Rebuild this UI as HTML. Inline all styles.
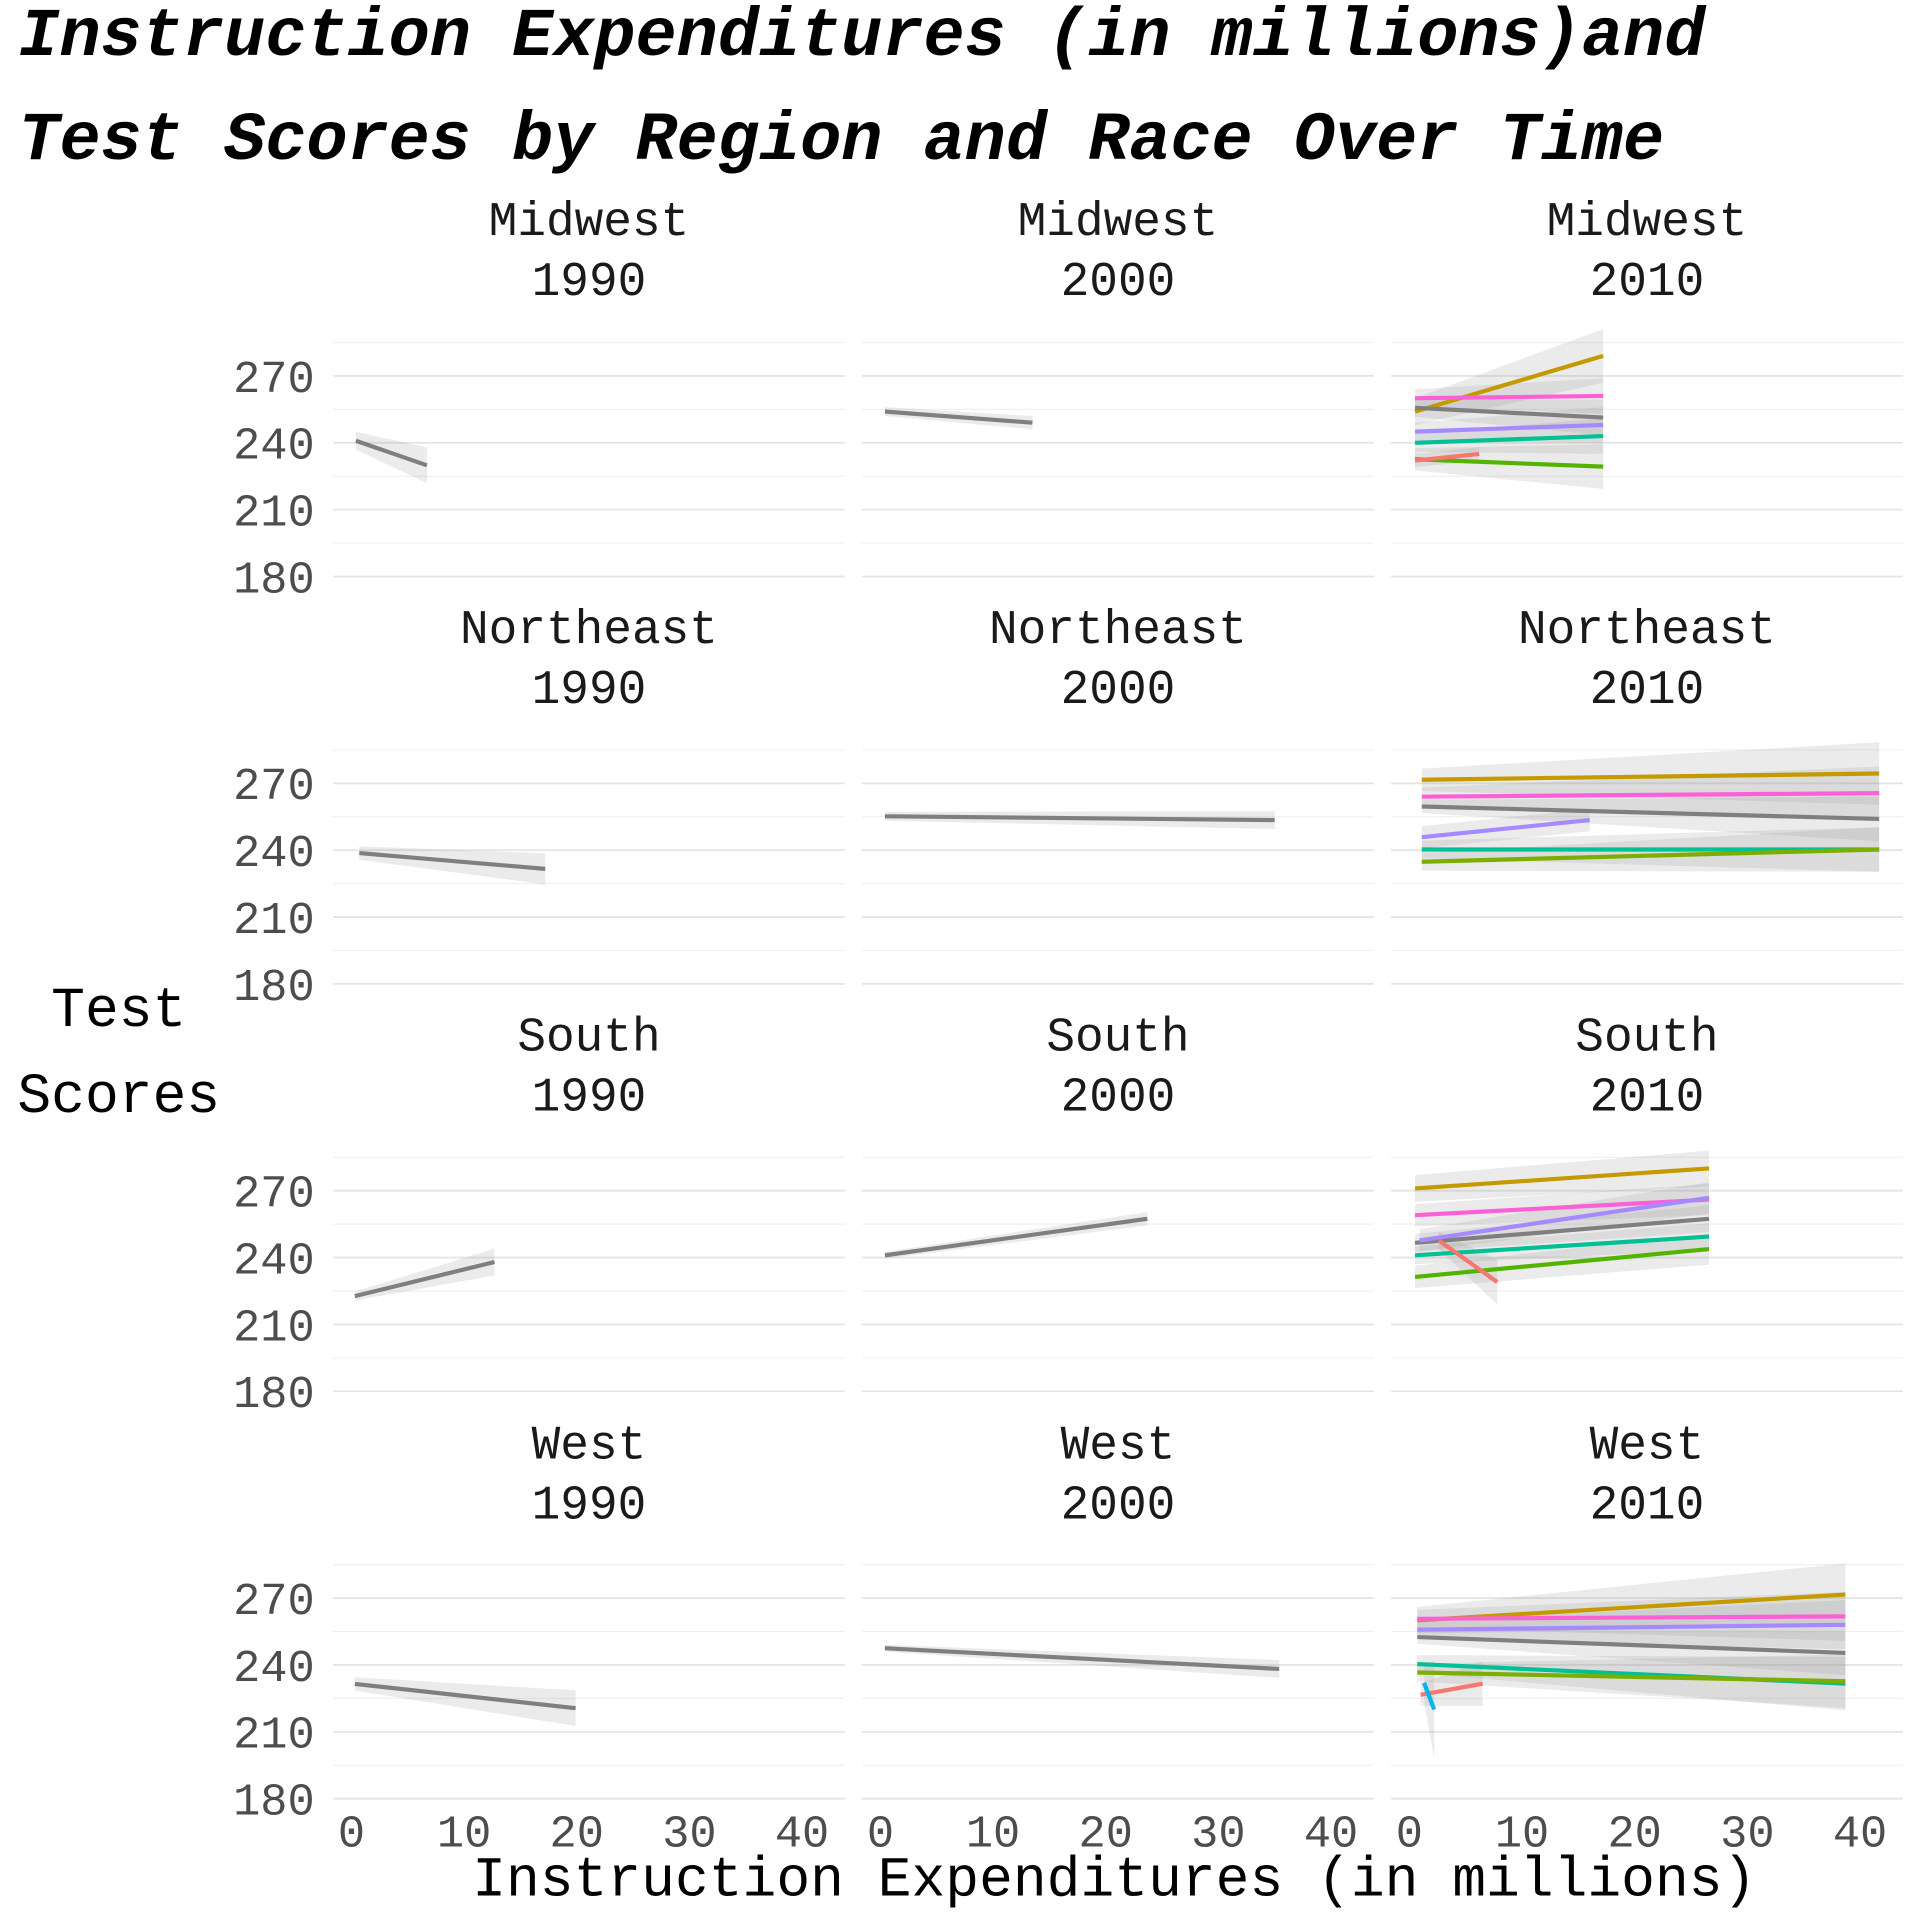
<!DOCTYPE html>
<html><head><meta charset="utf-8"><style>
html,body{margin:0;padding:0;background:#fff;}
svg{display:block;}
text{font-family:"Liberation Mono","DejaVu Sans Mono",monospace;}
</style></head><body>
<svg id="chart" width="1920" height="1920" viewBox="0 0 1568 1568" xmlns="http://www.w3.org/2000/svg">
<rect width="1568" height="1568" fill="#fff"/>
<text x="15" y="45" font-size="56" font-weight="bold" font-style="italic" fill="#000">Instruction Expenditures (in millions)and</text>
<text x="15" y="130" font-size="56" font-weight="bold" font-style="italic" fill="#000">Test Scores by Region and Race Over Time</text>
<text x="97" y="838" font-size="46" text-anchor="middle" fill="#000">Test</text>
<text x="97" y="908" font-size="46" text-anchor="middle" fill="#000">Scores</text>
<text x="910" y="1548" font-size="46" text-anchor="middle" fill="#000">Instruction Expenditures (in millions)</text>
<g id="panels"></g>
</svg>
<script>
const regions = ["Midwest","Northeast","South","West"];
const years = ["1990","2000","2010"];
const yTicks = [180,210,240,270];
const yMinor = [195,225,255,285];
const xTicks = [0,10,20,30,40];
const groupColors = {all:"#7f7f7f",red:"#F8766D",gold:"#C49A00",green:"#53B400",lgreen:"#7CAE00",teal:"#00C094",cyan:"#00B6EB",purple:"#A58AFF",pink:"#FB61D7"};
const sRow   = [0,0,0,0,0,0,0,0,0, 1,1,1,1,1,1,1,1, 2,2,2,2,2,2,2,2,2, 3,3,3,3,3,3,3,3,3,3];
const sCol   = [0,1,2,2,2,2,2,2,2, 0,1,2,2,2,2,2,2, 0,1,2,2,2,2,2,2,2, 0,1,2,2,2,2,2,2,2,2];
const sGroup = ["all","all","gold","pink","all","purple","teal","green","red",
                "all","all","gold","pink","all","purple","teal","lgreen",
                "all","all","gold","pink","all","purple","teal","green","red",
                "all","all","gold","pink","purple","all","teal","lgreen","red","cyan"];
const sX0 = [0.4,0.4,0.5,0.5,0.5,0.5,0.5,0.5,0.5, 0.7,0.4,1.1,1.1,1.1,1.1,1.1,1.1, 0.3,0.4,0.5,0.5,0.5,0.9,0.5,0.5,2.6, 0.3,0.4,0.7,0.7,0.7,0.7,0.7,0.7,1.0,1.3];
const sX1 = [6.7,13.5,17.2,17.2,17.2,17.2,17.2,17.2,6.2, 17.2,35,41.7,41.7,41.7,16,41.7,41.7, 12.7,23.7,26.6,26.6,26.6,26.6,26.6,26.6,7.8, 19.9,35.4,38.7,38.7,38.7,38.7,38.7,38.7,6.5,2.2];
const sY0 = [240.9,254,254,260,255.7,245,240,232.6,232, 238.7,255.2,271.6,264,259.6,245.8,240.3,234.8, 222.7,241,271,259,246.6,247.7,241,231.3,247.7, 231.5,247.5,260,260.7,255.8,252.5,240.4,236.6,226.6,232];
const sY1 = [229.9,249,279,261,251.3,248,243,229.3,235, 231.6,253.5,274.4,265.6,254,253.5,240.3,240.3, 238,257.4,280,266,257.4,266.8,249.4,243.8,229, 220.6,238.2,271.6,261.8,258,245.4,231.6,232.7,231.6,220];
const sSe0 = [4,2,6,4,4,4,4,5,3, 3,2,5,4,3,5,4,4, 2,1.5,6,5,4,5,4,5,4, 3,1.5,6,4,4,3,4,4,5,8];
const sSe1 = [8,3,12,8,8,8,8,10,3, 7,4,14,12,10,5,10,10, 6,3,8,7,6,7,6,7,10, 8,4,14,11,11,10,12,12,10,22];

const NS="http://www.w3.org/2000/svg";
const root=document.getElementById('panels');
function yS(v,r){return 307+332.7*r+(270-v)*1.82;}
function xS(v,c){return 287+432*c+v*9.2;}
function mk(tag,attrs,parent){const e=document.createElementNS(NS,tag);for(const k in attrs)e.setAttribute(k,attrs[k]);(parent||root).appendChild(e);return e;}

for(let r=0;r<4;r++){
  for(let c=0;c<3;c++){
    const g=mk('g',{});
    
    
    const cx=481+432*c;
    const t1=mk('text',{x:cx,y:192+333*r,'font-size':39,'text-anchor':'middle',fill:'#1a1a1a'},g);
    t1.textContent=regions[r];
    
    
    const t2=mk('text',{x:cx,y:241+333*r,'font-size':39,'text-anchor':'middle',fill:'#1a1a1a'},g);
    t2.textContent=years[c];
    
    
    const x0=272+432*c, x1=x0+418;
    yMinor.forEach(v=>{const l=mk('line',{x1:x0,x2:x1,y1:yS(v,r),y2:yS(v,r),stroke:'#f0f0f0','stroke-width':1},g);
      
      });
    yTicks.forEach(v=>{const l=mk('line',{x1:x0,x2:x1,y1:yS(v,r),y2:yS(v,r),stroke:'#e5e5e5','stroke-width':1.5},g);
      
      });
    if(c===0){
      yTicks.forEach(v=>{const t=mk('text',{x:257,y:yS(v,r)+13,'font-size':37,'text-anchor':'end',fill:'#4d4d4d'},g);
        t.textContent=v;
        
        });
    }
    if(r===3){
      xTicks.forEach(v=>{const t=mk('text',{x:xS(v,c),y:1508,'font-size':37,'text-anchor':'middle',fill:'#4d4d4d'},g);
        t.textContent=v;
        
        });
    }
  }
}
for(let i=0;i<sRow.length;i++){
  const r=sRow[i],c=sCol[i];
  const ax=xS(sX0[i],c),bx=xS(sX1[i],c);
  const pts=[[ax,yS(sY0[i]+sSe0[i],r)],[bx,yS(sY1[i]+sSe1[i],r)],[bx,yS(sY1[i]-sSe1[i],r)],[ax,yS(sY0[i]-sSe0[i],r)]];
  const p=mk('polygon',{points:pts.map(q=>q.join(',')).join(' '),fill:'#999999','fill-opacity':0.2});
  
  
}
for(let i=0;i<sRow.length;i++){
  const r=sRow[i],c=sCol[i];
  const l=mk('line',{x1:xS(sX0[i],c),y1:yS(sY0[i],r),x2:xS(sX1[i],c),y2:yS(sY1[i],r),stroke:groupColors[sGroup[i]],'stroke-width':3.4});
  
  
}
</script>
</body></html>
